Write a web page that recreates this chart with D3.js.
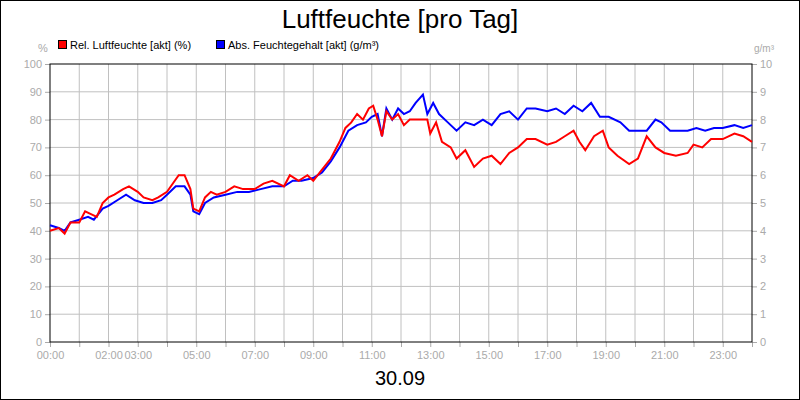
<!DOCTYPE html>
<html><head><meta charset="utf-8">
<script src="https://cdn.jsdelivr.net/npm/d3@7"></script>
<style>body{margin:0;background:#fff}svg{display:block;font-family:"Liberation Sans",Arial,sans-serif}</style>
</head><body><svg id="c" width="800" height="400"></svg>
<script>
const relHours=[0,0.3,0.5,0.7,1.0,1.2,1.4,1.6,1.8,2.0,2.2,2.5,2.7,3.0,3.2,3.5,3.7,4.0,4.2,4.4,4.6,4.8,4.9,5.1,5.3,5.5,5.7,6.0,6.3,6.6,7.0,7.3,7.6,8.0,8.2,8.5,8.8,9.0,9.3,9.6,9.9,10.1,10.3,10.5,10.7,10.9,11.05,11.2,11.35,11.5,11.7,11.9,12.1,12.3,12.6,12.9,13.0,13.2,13.4,13.7,13.9,14.2,14.5,14.8,15.1,15.4,15.7,16.0,16.3,16.6,17.0,17.3,17.6,17.9,18.1,18.3,18.6,18.9,19.1,19.4,19.8,20.1,20.4,20.7,21.0,21.4,21.8,22.0,22.3,22.6,23.0,23.4,23.7,24.0];
const relValues=[40,41,39,43,43,47,46,45,50,52,53,55,56,54,52,51,52,54,57,60,60,55,48,47,52,54,53,54,56,55,55,57,58,56,60,58,60,58,62,66,72,77,79,82,80,84,85,80,74,83,80,82,78,80,80,80,75,79,72,70,66,69,63,66,67,64,68,70,73,73,71,72,74,76,72,69,74,76,70,67,64,66,74,70,68,67,68,71,70,73,73,75,74,72];
const absHours=[0,0.3,0.5,0.7,1.0,1.3,1.5,1.8,2.0,2.3,2.6,2.9,3.2,3.5,3.8,4.0,4.3,4.6,4.8,4.9,5.1,5.3,5.6,6.0,6.4,6.8,7.2,7.6,8.0,8.3,8.6,9.0,9.3,9.6,9.9,10.2,10.5,10.8,11.0,11.2,11.35,11.5,11.7,11.9,12.1,12.3,12.5,12.75,12.9,13.1,13.3,13.6,13.9,14.2,14.5,14.8,15.1,15.4,15.7,16.0,16.3,16.6,17.0,17.3,17.6,17.9,18.2,18.5,18.8,19.1,19.5,19.8,20.1,20.4,20.7,20.9,21.2,21.5,21.8,22.1,22.4,22.7,23.0,23.4,23.7,24.0];
const absValues=[4.2,4.1,4.0,4.3,4.4,4.5,4.4,4.8,4.9,5.1,5.3,5.1,5.0,5.0,5.1,5.3,5.6,5.6,5.3,4.7,4.6,5.0,5.2,5.3,5.4,5.4,5.5,5.6,5.6,5.8,5.8,5.9,6.1,6.5,7.0,7.6,7.8,7.9,8.1,8.2,7.4,8.4,8.0,8.4,8.2,8.3,8.6,8.9,8.2,8.6,8.2,7.9,7.6,7.9,7.8,8.0,7.8,8.2,8.3,8.0,8.4,8.4,8.3,8.4,8.2,8.5,8.3,8.6,8.1,8.1,7.9,7.6,7.6,7.6,8.0,7.9,7.6,7.6,7.6,7.7,7.6,7.7,7.7,7.8,7.7,7.8];
const xTickHours=[0,2,3,5,7,9,11,13,15,17,19,21,23];
const xTickLabels=["00:00","02:00","03:00","05:00","07:00","09:00","11:00","13:00","15:00","17:00","19:00","21:00","23:00"];
const leftTicks=[0,10,20,30,40,50,60,70,80,90,100];
const rightTicks=[0,1,2,3,4,5,6,7,8,9,10];

const svg=d3.select("#c");
const L=50,R=752,T=64,B=342;
const x=d3.scaleLinear().domain([0,24]).range([L,R]);
const yL=d3.scaleLinear().domain([0,100]).range([B,T]);
const yR=d3.scaleLinear().domain([0,10]).range([B,T]);
svg.append("rect").attr("x",0.5).attr("y",0.5).attr("width",799).attr("height",399).attr("fill","#fff").attr("stroke","#000");
svg.append("text").attr("x",400).attr("y",28).attr("text-anchor","middle").attr("font-size",26).text("Luftfeuchte [pro Tag]");
// grid
const g=svg.append("g");
g.selectAll(".v").data(d3.range(1,24)).join("line").attr("x1",d=>x(d)).attr("x2",d=>x(d)).attr("y1",T).attr("y2",B).attr("stroke","#c0c0c0");
g.selectAll(".h").data(leftTicks.slice(1,-1)).join("line").attr("x1",L).attr("x2",R).attr("y1",d=>yL(d)).attr("y2",d=>yL(d)).attr("stroke","#c0c0c0");
// axes
const la=svg.append("g").attr("transform",`translate(${L},0)`).call(d3.axisLeft(yL).tickValues(leftTicks).tickSize(5).tickPadding(3));
const ra=svg.append("g").attr("transform",`translate(${R},0)`).call(d3.axisRight(yR).tickValues(rightTicks).tickSize(5).tickPadding(3));
const ba=svg.append("g").attr("transform",`translate(0,${B})`).call(d3.axisBottom(x).tickValues(d3.range(0,25)).tickSize(5).tickPadding(4).tickFormat(d=>{const i=xTickHours.indexOf(d);return i>=0?xTickLabels[i]:"";}));
[la,ra,ba].forEach(a=>{a.select(".domain").remove();a.selectAll("line").attr("stroke","#aaa");a.selectAll("text").attr("fill","#aaa").attr("font-size",11).attr("font-family","Liberation Sans, Arial, sans-serif");});
svg.append("rect").attr("x",L).attr("y",T).attr("width",R-L).attr("height",B-T).attr("fill","none").attr("stroke","#000");
svg.append("text").attr("x",43).attr("y",52).attr("text-anchor","middle").attr("fill","#aaa").attr("font-size",11).text("%");
svg.append("text").attr("x",764).attr("y",52).attr("text-anchor","middle").attr("fill","#aaa").attr("font-size",10).text("g/m³");
// lines
const line=(xs,ys,yS)=>d3.line().x((d,i)=>x(xs[i])).y((d,i)=>yS(ys[i]))(ys);
svg.append("path").attr("d",line(absHours,absValues,yR)).attr("fill","none").attr("stroke","#0000ff").attr("stroke-width",2);
svg.append("path").attr("d",line(relHours,relValues,yL)).attr("fill","none").attr("stroke","#ff0000").attr("stroke-width",2);
// legend
const leg=[["Rel. Luftfeuchte [akt] (%)","#ff0000",58],["Abs. Feuchtegehalt [akt] (g/m³)","#0000ff",216]];
leg.forEach(([t,c,lx])=>{svg.append("rect").attr("x",lx+0.5).attr("y",40.5).attr("width",8).attr("height",8).attr("fill",c).attr("stroke","#000");
svg.append("text").attr("x",lx+12).attr("y",48.5).attr("font-size",11).text(t);});
svg.append("text").attr("x",400).attr("y",385).attr("text-anchor","middle").attr("font-size",20).text("30.09");
</script></body></html>
